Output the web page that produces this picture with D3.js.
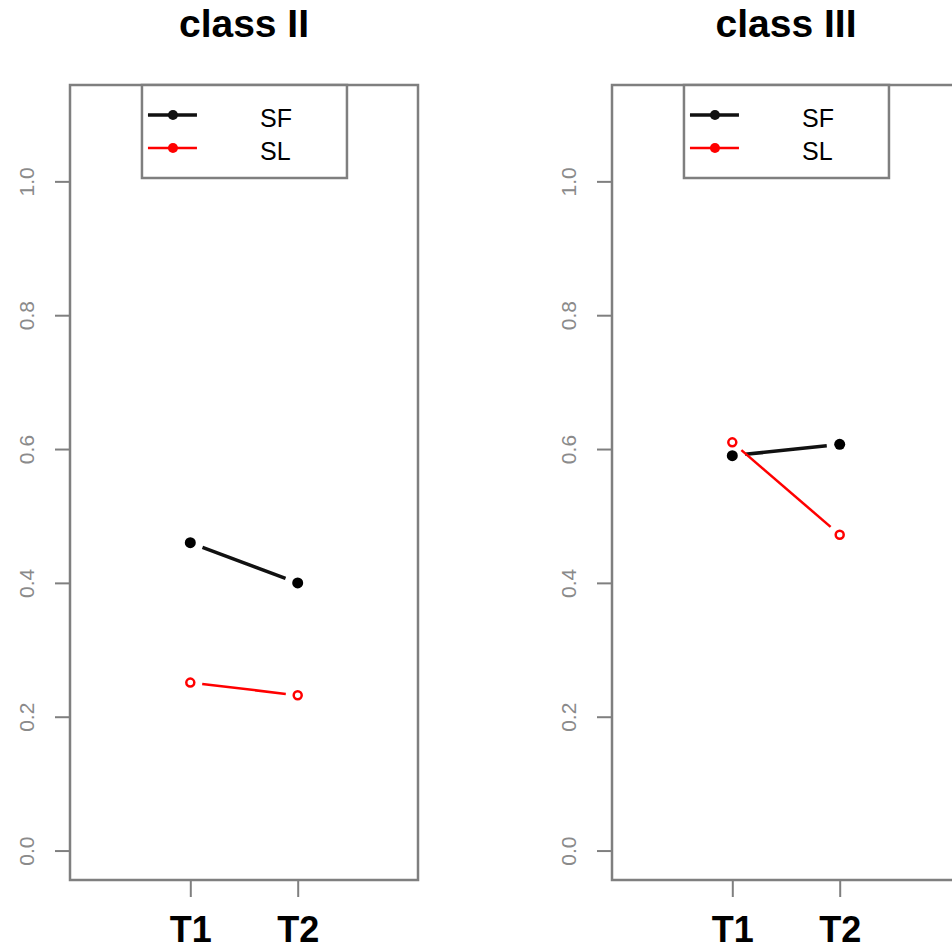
<!DOCTYPE html>
<html>
<head>
<meta charset="utf-8">
<script src="https://cdn.jsdelivr.net/npm/d3@7"></script>
<style>
  body { margin: 0; background: #fff; }
  svg { display: block; font-family: "Liberation Sans", Arial, sans-serif; }
</style>
</head>
<body>
<div id="chart"></div>
<script>
// Chart data
const timepoints = [1, 2];
const timeLabels = ["T1", "T2"];
const yTicks = [0, 0.2, 0.4, 0.6, 0.8, 1.0];
const panelTitles = ["class II", "class III"];
const seriesNames = ["SF", "SL"];
const sfValues = [[0.46, 0.40], [0.59, 0.607]];
const slValues = [[0.251, 0.232], [0.61, 0.472]];

const width = 952, height = 950;
const svg = d3.select("#chart").append("svg")
  .attr("width", width)
  .attr("height", height);

// Panel placement (R style: xlim c(0,3), ylim c(0,1.1), 4% padding)
const panels = [
  { left: 70, right: 418 },
  { left: 612, right: 960 }
];
const plotTop = 85, plotBottom = 880;
const axisColor = "#7f7f7f";

// draw segments with a gap near the points, like type = "b"
function gappedSegments(g, pts, color, sw, gap) {
  for (let i = 0; i < pts.length - 1; i++) {
    const [x0, y0] = pts[i], [x1, y1] = pts[i + 1];
    const dx = x1 - x0, dy = y1 - y0;
    const len = Math.sqrt(dx * dx + dy * dy);
    if (len <= 2 * gap) continue;
    const ux = dx / len, uy = dy / len;
    g.append("line")
      .attr("x1", x0 + ux * gap).attr("y1", y0 + uy * gap)
      .attr("x2", x1 - ux * gap).attr("y2", y1 - uy * gap)
      .attr("stroke", color)
      .attr("stroke-width", sw);
  }
}

panels.forEach((p, i) => {
  const x = d3.scaleLinear().domain([-0.12, 3.12]).range([p.left, p.right]);
  const y = d3.scaleLinear().domain([-0.044, 1.144]).range([plotBottom, plotTop]);
  const g = svg.append("g");

  // Title
  g.append("text")
    .attr("x", (p.left + p.right) / 2)
    .attr("y", 37)
    .attr("text-anchor", "middle")
    .attr("font-size", 39)
    .attr("font-weight", "bold")
    .text(panelTitles[i]);

  // Y axis
  const yAxis = g.append("g")
    .attr("transform", `translate(${p.left},0)`)
    .call(d3.axisLeft(y).tickValues(yTicks).tickSize(15).tickFormat(d3.format(".1f")));
  yAxis.select(".domain").remove();
  yAxis.selectAll(".tick line").attr("stroke", axisColor).attr("stroke-width", 2);
  yAxis.selectAll(".tick text")
    .attr("fill", "#8a8a8a")
    .attr("font-size", 21)
    .attr("x", 0).attr("dy", 0)
    .attr("text-anchor", "middle")
    .attr("transform", "translate(-43,0) rotate(-90) translate(0,7)");

  // X axis
  const xAxis = g.append("g")
    .attr("transform", `translate(0,${plotBottom})`)
    .call(d3.axisBottom(x).tickValues(timepoints).tickSize(17)
      .tickFormat((d, j) => timeLabels[j]));
  xAxis.select(".domain").remove();
  xAxis.selectAll(".tick line").attr("stroke", axisColor).attr("stroke-width", 2);
  xAxis.selectAll(".tick text")
    .attr("fill", "#000")
    .attr("font-size", 36)
    .attr("font-weight", "bold")
    .attr("y", 62).attr("dy", 0);

  // Box
  g.append("rect")
    .attr("x", p.left).attr("y", plotTop)
    .attr("width", p.right - p.left).attr("height", plotBottom - plotTop)
    .attr("fill", "none")
    .attr("stroke", axisColor)
    .attr("stroke-width", 2.5);

  // SF series (black, filled)
  const sfPts = timepoints.map((t, j) => [x(t), y(sfValues[i][j])]);
  gappedSegments(g, sfPts, "#111", 3.5, 13);
  g.selectAll(".sf").data(sfPts).enter().append("circle")
    .attr("cx", d => d[0]).attr("cy", d => d[1])
    .attr("r", 5.5).attr("fill", "#000");

  // SL series (red, open)
  const slPts = timepoints.map((t, j) => [x(t), y(slValues[i][j])]);
  gappedSegments(g, slPts, "#ff0000", 2.5, 12);
  g.selectAll(".sl").data(slPts).enter().append("circle")
    .attr("cx", d => d[0]).attr("cy", d => d[1])
    .attr("r", 4).attr("fill", "none")
    .attr("stroke", "#ff0000").attr("stroke-width", 2.5);

  // Legend
  const lx = x(0.55), lw = 205;
  g.append("rect")
    .attr("x", lx).attr("y", plotTop)
    .attr("width", lw).attr("height", 93)
    .attr("fill", "#fff")
    .attr("stroke", axisColor)
    .attr("stroke-width", 2.5);
  const colors = ["#111", "#ff0000"];
  const rows = [115, 148];
  seriesNames.forEach((name, k) => {
    g.append("line")
      .attr("x1", lx + 6).attr("x2", lx + 55)
      .attr("y1", rows[k]).attr("y2", rows[k])
      .attr("stroke", colors[k]).attr("stroke-width", k === 0 ? 3.5 : 2.5);
    g.append("circle")
      .attr("cx", lx + 31).attr("cy", rows[k])
      .attr("r", 5).attr("fill", colors[k]);
    g.append("text")
      .attr("x", lx + 118).attr("y", rows[k] + 12)
      .attr("font-size", 25)
      .attr("fill", "#000")
      .text(name);
  });
});
</script>
</body>
</html>
